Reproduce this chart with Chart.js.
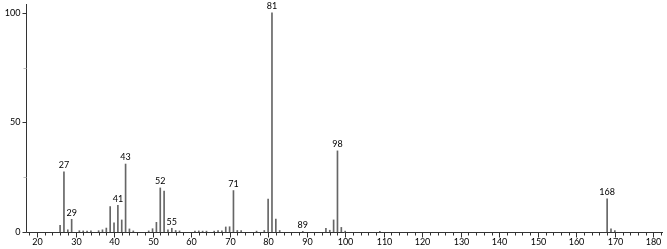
<!DOCTYPE html>
<html>
<head>
<meta charset="utf-8">
<script src="https://cdn.jsdelivr.net/npm/chart.js@4.4.0/dist/chart.umd.min.js"></script>
<style>
  html, body { margin: 0; padding: 0; background: #fff; }
  #wrap { width: 667px; height: 249px; }
</style>
</head>
<body>
<div id="wrap"><canvas id="spectrum" width="667" height="249"></canvas></div>
<script>
// m/z values and relative intensities
const mz = [26, 27, 28, 29, 31, 32, 33, 34, 36, 37, 38, 39, 40, 41, 42, 43, 44, 45,
            49, 50, 51, 52, 53, 54, 55, 56, 57, 61, 62, 63, 64, 66, 67, 68, 69, 70, 71, 72, 73,
            77, 79, 80, 81, 82, 83, 89, 95, 96, 97, 98, 99, 100, 109, 168, 169, 170];
const intensity = [3.0, 27.4, 1.0, 5.8, 0.6, 0.5, 0.4, 0.5, 0.6, 1.0, 1.8, 11.6, 4.2, 12.2, 5.5, 31.0, 1.4, 0.5,
                   0.5, 1.5, 4.4, 20.1, 18.7, 1.0, 1.7, 0.7, 0.5, 0.4, 0.5, 0.4, 0.4, 0.4, 0.6, 0.5, 2.3, 2.4, 18.9, 0.7, 0.6,
                   0.4, 0.7, 15.0, 100, 5.9, 0.7, 0.3, 1.7, 0.8, 5.5, 37.0, 2.1, 0.4, 0.3, 15.1, 1.4, 0.6];
// peaks that carry a text label
const labelledPeaks = [27, 29, 41, 43, 52, 55, 71, 81, 89, 98, 168];
const yTickLabels = [0, 50, 100];
const yMinorTicks = [25, 75];
const xLabelStep = 10;
const xTickStep = 2;

const FONT = '9px Lato, "DejaVu Sans", sans-serif';
const INK = '#333';

const axesPlugin = {
  id: 'spectrumAxes',
  afterDatasetsDraw(chart) {
    const ctx = chart.ctx;
    const xs = chart.scales.x;
    const ys = chart.scales.y;
    const area = chart.chartArea;
    const y0 = Math.round(ys.getPixelForValue(0)) + 0.5;
    const xl = Math.round(area.left) + 0.5;

    ctx.save();
    ctx.strokeStyle = INK;
    ctx.lineWidth = 1;
    // axis lines
    ctx.beginPath();
    ctx.moveTo(xl, area.top);
    ctx.lineTo(xl, y0);
    ctx.lineTo(area.right, y0);
    ctx.stroke();

    // x ticks
    ctx.font = FONT;
    ctx.fillStyle = '#000';
    ctx.textAlign = 'center';
    ctx.textBaseline = 'top';
    for (let v = 18; v <= xs.max; v += xTickStep) {
      const px = Math.round(xs.getPixelForValue(v)) + 0.5;
      const major = v % xLabelStep === 0;
      ctx.beginPath();
      ctx.moveTo(px, y0);
      ctx.lineTo(px, y0 + (major ? 5 : 3));
      ctx.stroke();
      if (major) ctx.fillText(String(v), px, y0 + 5);
    }

    // y ticks
    ctx.textAlign = 'right';
    ctx.textBaseline = 'middle';
    yTickLabels.forEach(v => {
      const py = Math.round(ys.getPixelForValue(v)) + 0.5;
      ctx.beginPath();
      ctx.moveTo(xl - 4, py);
      ctx.lineTo(xl, py);
      ctx.stroke();
      ctx.fillText(String(v), xl - 6, py);
    });
    ctx.strokeStyle = '#bbb';
    yMinorTicks.forEach(v => {
      const py = Math.round(ys.getPixelForValue(v)) + 0.5;
      ctx.beginPath();
      ctx.moveTo(xl - 3, py);
      ctx.lineTo(xl, py);
      ctx.stroke();
    });

    // peak labels
    ctx.textAlign = 'center';
    ctx.textBaseline = 'bottom';
    labelledPeaks.forEach(m => {
      const i = mz.indexOf(m);
      const px = xs.getPixelForValue(m);
      const py = ys.getPixelForValue(intensity[i]);
      ctx.fillText(String(m), px, py - 2);
    });
    ctx.restore();
  }
};

const ctx = document.getElementById('spectrum').getContext('2d');
new Chart(ctx, {
  type: 'bar',
  data: {
    datasets: [{
      data: mz.map((m, i) => ({ x: m, y: intensity[i] })),
      backgroundColor: '#666',
      barThickness: 1,
      borderWidth: 0
    }]
  },
  options: {
    responsive: false,
    animation: false,
    layout: { padding: { left: 26, right: 4, top: 4, bottom: 17 } },
    plugins: { legend: { display: false }, tooltip: { enabled: false } },
    scales: {
      x: { type: 'linear', min: 17.15, max: 182.5, offset: false, display: false },
      y: { min: 0, max: 104, display: false }
    }
  },
  plugins: [axesPlugin]
});
</script>
</body>
</html>
